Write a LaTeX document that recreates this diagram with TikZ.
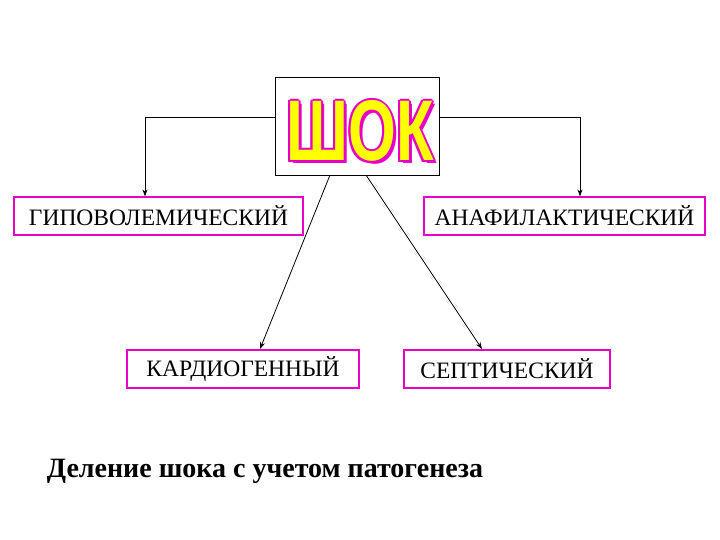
\documentclass[tikz,border=0pt]{standalone}
\usepackage{fontspec}
\usetikzlibrary{arrows.meta}
\setmainfont{Liberation Serif}
\newfontfamily\shokfont{Liberation Sans}
\definecolor{mag}{RGB}{230,0,200}
\definecolor{yel}{RGB}{255,255,0}
\begin{document}
\begin{tikzpicture}[x=1pt,y=-1pt,
  box/.style={draw=mag,line width=1.2pt,minimum height=38pt,inner sep=0pt,font=\fontsize{23.5}{26}\selectfont},
  arr/.style={-{Stealth[length=7pt,width=5pt]},line width=0.8pt},
  shk/.style={font=\shokfont\bfseries\fontsize{82}{82}\selectfont,xscale=0.75,yscale=1.05,inner sep=0pt}]
\useasboundingbox (0,0) rectangle (720,540);
\node[draw=black,line width=0.8pt,minimum width=164pt,minimum height=98pt] (shok) at (357,126) {};
\foreach \dx/\dy in {-2/0,2/0,0/-2,0/2,-1.5/-1.5,1.5/1.5,-1.5/1.5,1.5/-1.5,3/3}
  \node[shk,text=mag] at ({360+\dx},{131+\dy}) {ШОК};
\node[shk,text=yel] (shoktext) at (360,131) {ШОК};
\node[box,minimum width=289pt] (hyp) at (158.5,216) {ГИПОВОЛЕМИЧЕСКИЙ};
\node[box,minimum width=281pt] (ana) at (564.5,216) {АНАФИЛАКТИЧЕСКИЙ};
\node[box,minimum width=232pt] (kar) at (243,369) {КАРДИОГЕННЫЙ};
\node[box,minimum width=206pt] (sep) at (507,369) {СЕПТИЧЕСКИЙ};
\coordinate (c1) at (330,175);
\coordinate (c2) at (260,349);
\coordinate (c3) at (366,175);
\coordinate (c4) at (482,349);
\draw[arr] (shok.west|-0,117) -| (hyp.north-|145,0);
\draw[arr] (shok.east|-0,117) -| (ana.north-|580,0);
\draw[arr] (c1) -- (c2);
\draw[arr] (c3) -- (c4);
\node[font=\bfseries\fontsize{28}{30}\selectfont] (cap) at (265,471) {Деление шока с учетом патогенеза};
\end{tikzpicture}
\end{document}
